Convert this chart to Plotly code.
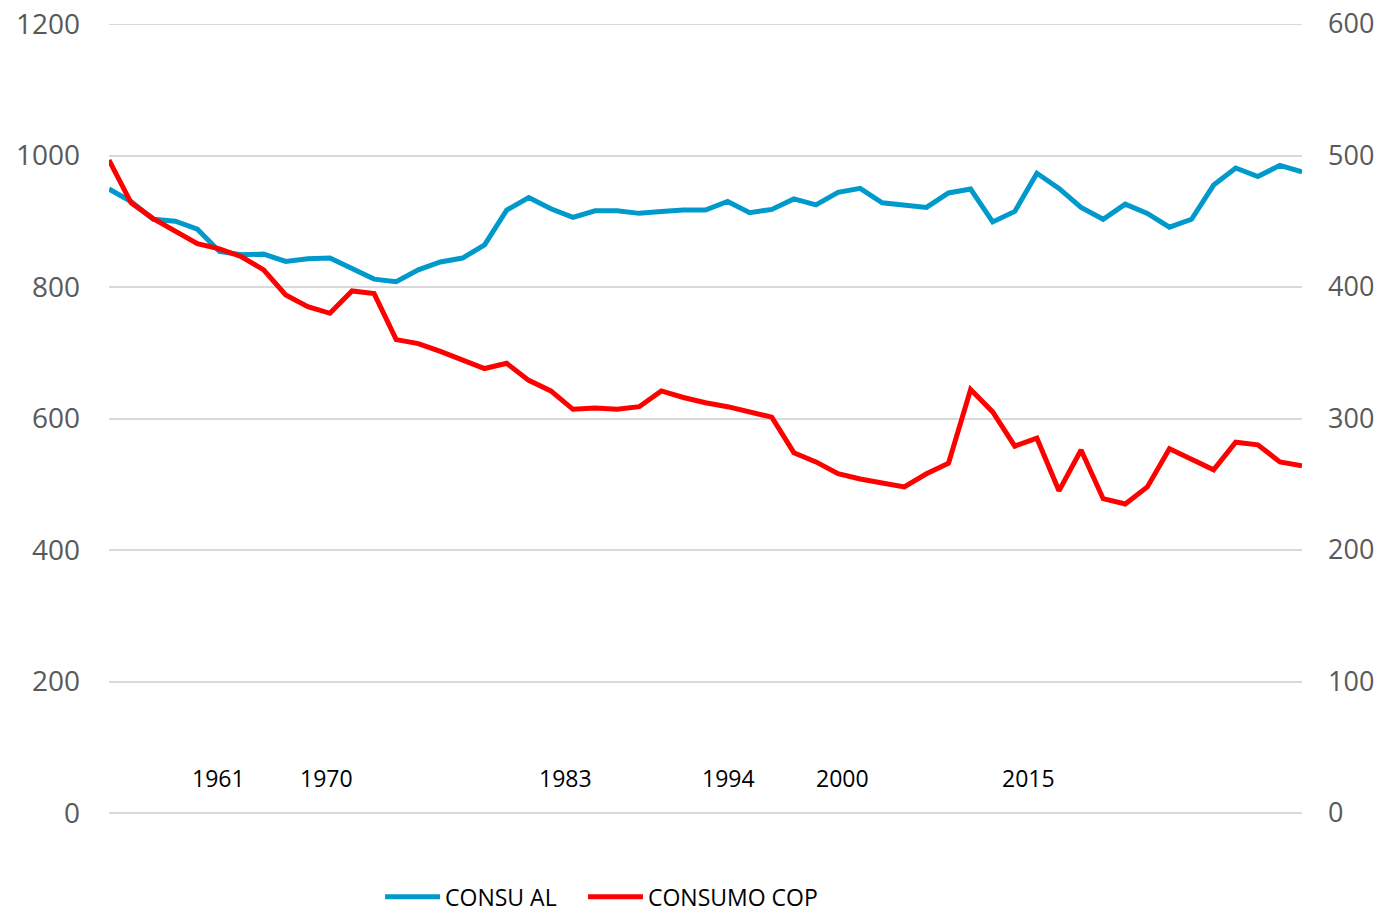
import plotly.graph_objects as go

# ---- data ----
idx = list(range(55))
consu_al = [949, 930, 903, 900, 888, 854, 849, 850, 839, 843, 844, 828, 812, 808,
            826, 838, 844, 864, 917, 936, 919, 906, 916, 916, 912, 915, 917, 917,
            930, 913, 918, 934, 925, 944, 950, 928, 925, 921, 943, 949, 899,
            915, 973, 950, 921, 903, 926, 912, 891, 903, 955, 981, 968, 985, 975]
consumo_cop = [496.5, 464, 452, 443, 433, 429, 423, 413, 394, 385, 380, 397, 395, 360,
               357, 351, 345, 338, 342, 329, 321, 307, 308, 307, 309, 321, 316, 312, 309, 305, 301,
               274, 267, 258, 254, 251, 248, 258, 266, 322, 305, 279, 285, 245, 276, 239, 235,
               248, 277, 269, 261, 282, 280, 267, 264]
year_labels = ["1961", "1970", "1983", "1994", "2000", "2015"]
year_label_pos = [4.94, 9.86, 20.68, 28.04, 33.2, 41.64]

left_ticks = [0, 200, 400, 600, 800, 1000, 1200]
right_ticks = [0, 100, 200, 300, 400, 500, 600]

FONT = "Open Sans"
GRID = "#D9D9D9"

fig = go.Figure()
fig.add_trace(go.Scatter(x=idx, y=consu_al, mode="lines", name="CONSU AL",
                         line=dict(color="#0099CC", width=5), yaxis="y",
                         legend="legend"))
fig.add_trace(go.Scatter(x=idx, y=consumo_cop, mode="lines", name="CONSUMO COP",
                         line=dict(color="#FF0000", width=5), yaxis="y2",
                         legend="legend2"))

# top gridline (plotly omits gridlines at the exact range edge)
fig.add_shape(type="line", xref="paper", yref="y", x0=0, x1=1,
              y0=left_ticks[-1], y1=left_ticks[-1],
              line=dict(color=GRID, width=2), layer="below")

for lab, pos in zip(year_labels, year_label_pos):
    fig.add_annotation(x=pos, y=0.0444, xref="x", yref="paper", text=lab,
                       showarrow=False, font=dict(family=FONT, size=23, color="#000000"),
                       xanchor="center", yanchor="middle")

legend_common = dict(orientation="h", xanchor="left", xref="paper",
                     y=0.0145, yanchor="middle", yref="container",
                     itemwidth=55,
                     font=dict(family=FONT, size=23, color="#000000"),
                     bgcolor="rgba(0,0,0,0)")

fig.update_layout(
    width=1375, height=902,
    margin=dict(l=101, r=81, t=16, b=97, autoexpand=False),
    paper_bgcolor="white", plot_bgcolor="white",
    font=dict(family=FONT, color="#595959"),
    xaxis=dict(range=[0, 54], showgrid=False, showticklabels=False, ticks="",
               zeroline=False, showline=False, fixedrange=True, automargin=False),
    yaxis=dict(range=[0, 1200], tickvals=left_ticks, showgrid=True, gridcolor=GRID,
               gridwidth=2, zeroline=True, zerolinecolor=GRID, zerolinewidth=2,
               showline=False, ticks="", ticklabelstandoff=28, automargin=False,
               ticklabeloverflow="allow",
               tickfont=dict(family=FONT, size=28, color="#595959")),
    yaxis2=dict(range=[0, 600], tickvals=right_ticks, overlaying="y", side="right",
                showgrid=False, zeroline=False, showline=False, ticks="",
                ticklabelstandoff=25, automargin=False, ticklabeloverflow="allow",
                tickfont=dict(family=FONT, size=27, color="#595959")),
    legend=dict(x=0.2272, **legend_common),
    legend2=dict(x=0.3973, **legend_common),
    showlegend=True,
)

fig.write_html("out.html")
